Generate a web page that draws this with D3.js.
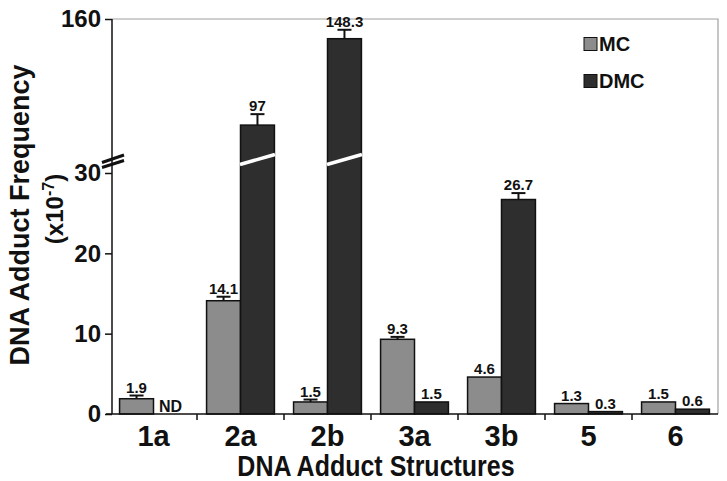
<!DOCTYPE html>
<html>
<head>
<meta charset="utf-8">
<script src="https://cdn.jsdelivr.net/npm/d3@7/dist/d3.min.js"></script>
<style>
  html, body { margin: 0; padding: 0; background: #fff; }
  svg { display: block; font-family: "Liberation Sans", Arial, sans-serif; font-weight: bold; }
</style>
</head>
<body>
<svg id="chart" width="727" height="481"></svg>
<script>
const categories = ["1a", "2a", "2b", "3a", "3b", "5", "6"];
const mcValues  = [1.9, 14.1, 1.5, 9.3, 4.6, 1.3, 1.5];
const dmcValues = [null, 97, 148.3, 1.5, 26.7, 0.3, 0.6];
const mcErrors  = [0.4, 0.5, 0.3, 0.3, 0, 0, 0];
const dmcErrors = [0, 6.5, 5.3, 0, 0.8, 0, 0];
const mcLabels  = ["1.9", "14.1", "1.5", "9.3", "4.6", "1.3", "1.5"];
const dmcLabels = ["ND", "97", "148.3", "1.5", "26.7", "0.3", "0.6"];
const seriesNames = ["MC", "DMC"];
const lowerTicks = [0, 10, 20, 30];
const upperTicks = [160];

(function () {
const svg = d3.select("#chart");
const L = 112, R = 718, T = 19, B = 414;
const breakY = 163;

const yLow = d3.scaleLinear().domain([0, 30]).range([B, 173]);
const yHigh = d3.scaleLinear().domain([74.5, 160]).range([breakY, T]);
const y = v => (v <= 30 ? yLow(v) : yHigh(v));

const x = d3.scaleBand().domain(categories).range([110, 719])
  .paddingInner(0.22).paddingOuter(0.11);
const xs = d3.scaleBand().domain(seriesNames).range([0, x.bandwidth()]);

const colors = { MC: "#8c8c8c", DMC: "#2e2e2e" };

// frame (top & right, gray)
svg.append("path")
  .attr("d", `M${L},${T}H${R}V${B}`)
  .attr("fill", "none").attr("stroke", "#a0a0a0").attr("stroke-width", 1.2);

const rows = categories.map((c, i) => ({
  c, i,
  bars: [
    { s: "MC", v: mcValues[i], e: mcErrors[i], l: mcLabels[i] },
    { s: "DMC", v: dmcValues[i], e: dmcErrors[i], l: dmcLabels[i] }
  ]
}));

const g = svg.append("g");
rows.forEach(r => {
  r.bars.forEach(b => {
    const bx = x(r.c) + xs(b.s);
    const bw = xs.bandwidth();
    const cx = bx + bw / 2;
    if (b.v == null) {
      g.append("text").attr("x", cx).attr("y", B - 2)
        .attr("text-anchor", "middle").attr("font-size", 16).attr("fill", "#111")
        .text(b.l);
      return;
    }
    const yTop = y(b.v);
    g.append("rect").attr("x", bx).attr("y", yTop).attr("width", bw).attr("height", B - yTop)
      .attr("fill", colors[b.s]).attr("stroke", "#111").attr("stroke-width", 1.5);
    if (b.v > 30) {
      g.append("line").attr("x1", bx - 0.5).attr("y1", 164.5).attr("x2", bx + bw + 0.5).attr("y2", 154.5)
        .attr("stroke", "#fff").attr("stroke-width", 3.5);
    }
    let labelY = yTop;
    if (b.e > 0) {
      const ye = y(b.v + b.e);
      g.append("line").attr("x1", cx).attr("x2", cx).attr("y1", yTop).attr("y2", ye)
        .attr("stroke", "#111").attr("stroke-width", 2);
      g.append("line").attr("x1", cx - 7).attr("x2", cx + 7).attr("y1", ye).attr("y2", ye)
        .attr("stroke", "#111").attr("stroke-width", 2);
      labelY = ye;
    }
    g.append("text").attr("x", cx).attr("y", labelY - 3)
      .attr("text-anchor", "middle").attr("font-size", 15).attr("fill", "#111")
      .text(b.l);
  });
});

// y axes
const axL = svg.append("g").attr("transform", `translate(${L},0)`)
  .call(d3.axisLeft(yLow).tickValues(lowerTicks).tickSize(7).tickPadding(4));
const axU = svg.append("g").attr("transform", `translate(${L},0)`)
  .call(d3.axisLeft(yHigh).tickValues(upperTicks).tickSize(7).tickPadding(4));
[axL, axU].forEach(a => {
  a.select(".domain").remove();
  a.selectAll("line").attr("stroke", "#111").attr("stroke-width", 1.5);
  a.selectAll("text").attr("font-size", 24).attr("font-weight", "bold")
    .attr("font-family", "Liberation Sans, Arial, sans-serif").attr("fill", "#111");
});
svg.append("line").attr("x1", L).attr("x2", L).attr("y1", T).attr("y2", B)
  .attr("stroke", "#111").attr("stroke-width", 1.5);
// break marks
[[162.5, 155], [167.5, 160.5]].forEach(([a, b]) => {
  svg.append("line").attr("x1", 102).attr("y1", a).attr("x2", 124).attr("y2", b)
    .attr("stroke", "#111").attr("stroke-width", 3);
});

// x axis
const axX = svg.append("g").attr("transform", `translate(0,${B})`)
  .call(d3.axisBottom(x).tickSize(0).tickPadding(11));
axX.select(".domain").remove();
axX.selectAll("text").attr("font-size", 29).attr("font-weight", "bold")
  .attr("font-family", "Liberation Sans, Arial, sans-serif").attr("fill", "#111")
  .attr("dy", "0.71em");
svg.append("line").attr("x1", L - 6).attr("x2", R).attr("y1", B).attr("y2", B)
  .attr("stroke", "#111").attr("stroke-width", 1.5);
// tick marks between categories
categories.slice(1).forEach(c => {
  const tx = x(c) - x.step() * x.paddingInner() / 2;
  svg.append("line").attr("x1", tx).attr("x2", tx).attr("y1", B).attr("y2", B + 6)
    .attr("stroke", "#111").attr("stroke-width", 1.5);
});

// axis titles
svg.append("text").attr("transform", "translate(376,476) scale(1,1.15)").attr("text-anchor", "middle")
  .attr("font-size", 25).attr("fill", "#111").text("DNA Adduct Structures");
const yTitle = svg.append("text").attr("transform", "translate(29,215) rotate(-90)")
  .attr("text-anchor", "middle").attr("font-size", 27).attr("fill", "#111");
yTitle.append("tspan").attr("x", 0).attr("y", 0).text("DNA Adduct Frequency");
const yTitle2 = svg.append("text").attr("transform", "translate(63,209) rotate(-90)")
  .attr("text-anchor", "middle").attr("font-size", 24).attr("fill", "#111");
yTitle2.append("tspan").text("(x10");
yTitle2.append("tspan").attr("font-size", 16).attr("dy", -9).text("-7");
yTitle2.append("tspan").attr("dy", 9).text(")");

// legend
const legend = svg.append("g");
seriesNames.forEach((s, i) => {
  const ly = 44 + i * 37;
  legend.append("rect").attr("x", 584).attr("y", ly - 6.5).attr("width", 13).attr("height", 13)
    .attr("fill", colors[s]).attr("stroke", "#111").attr("stroke-width", 1);
  legend.append("text").attr("x", 599).attr("y", ly + 7).attr("font-size", 20)
    .attr("fill", "#111").text(s);
});
})();
</script>
</body>
</html>
